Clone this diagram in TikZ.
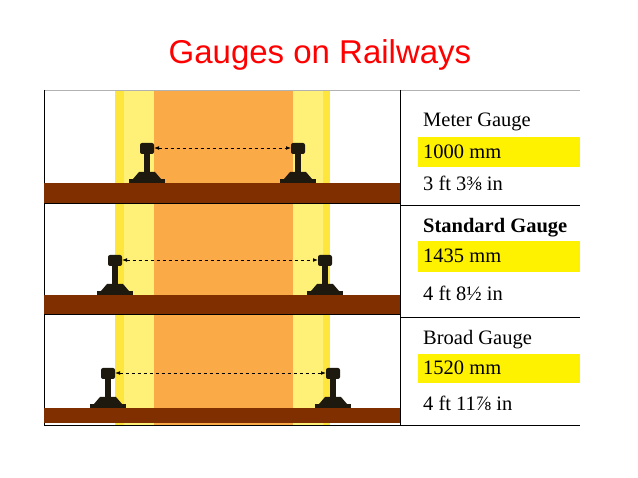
\documentclass[tikz,border=0pt]{standalone}
\usepackage{fontspec}
\setmainfont{Liberation Serif}
\newfontfamily\titlefont{Liberation Sans}
\usetikzlibrary{positioning, arrows.meta}
\definecolor{sleeper}{RGB}{128,48,0}
\definecolor{bandyellow}{RGB}{255,230,60}
\definecolor{paleyellow}{RGB}{255,240,120}
\definecolor{bandorange}{RGB}{250,170,70}
\definecolor{railblack}{RGB}{30,25,15}
\tikzstyle{label} = [anchor=west, inner sep=0pt, font=\fontsize{20.5}{20.5}\selectfont]
\tikzstyle{hilite} = [fill=yellow, draw=none]
\tikzstyle{gauge} = [dashed, thick, {Latex[length=5pt]}-{Latex[length=5pt]}]
\tikzset{rail/.pic={
  \fill[railblack] (-18,0) rectangle (18,-4);
  \fill[railblack] (-14,-4) -- (14,-4) -- (8,-11) -- (-8,-11) -- cycle;
  \fill[railblack] (-3,-11) rectangle (3,-31);
  \fill[railblack, rounded corners=2pt] (-7,-29) rectangle (7,-40);
  \coordinate (-head) at (0,-35);
}}
\begin{document}
\begin{tikzpicture}[x=1pt, y=-1pt]
\useasboundingbox (0,0) rectangle (638,478);
% bands
\fill[bandyellow] (115,90) rectangle (330,425);
\fill[paleyellow] (124,90) rectangle (323,425);
\fill[bandorange] (154,90) rectangle (293,425);
% title
\node (title) at (320,55) {\titlefont\fontsize{33}{33}\selectfont\color{red}Gauges on Railways};
% frame
\draw[gray!60] (44,90) -- (580,90);
\draw[black] (44,90) -- (44,425) -- (580,425);
\draw[black] (400,90) -- (400,425);
\draw[black, thick] (400,205) -- (580,205);
\draw[black, thick] (400,317) -- (580,317);
% sleepers
\fill[sleeper] (44,183) rectangle (400,203);
\fill[sleeper] (44,295) rectangle (400,314);
\fill[sleeper] (44,408) rectangle (400,423);
\draw (44,203) -- (400,203) (44,314) -- (400,314);
% rails
\pic (m1) at (147,183) {rail};
\pic (m2) at (298,183) {rail};
\pic (s1) at (115,295) {rail};
\pic (s2) at (325,295) {rail};
\pic (b1) at (108,408) {rail};
\pic (b2) at (333,408) {rail};
\draw [gauge] ([xshift=7]m1-head) -- ([xshift=-7]m2-head);
\draw [gauge] ([xshift=7]s1-head) -- ([xshift=-7]s2-head);
\draw [gauge] ([xshift=7]b1-head) -- ([xshift=-7]b2-head);
% labels
\fill[hilite] (418,137) rectangle (580,167);
\fill[hilite] (418,241) rectangle (580,272);
\fill[hilite] (418,354) rectangle (580,383);
\node (meter) [label] at (423,122) {Meter Gauge};
\node (meterMm) [label] at (423,152) {1000 mm};
\node (meterFt) [label] at (423,183) {3 ft 3⅜ in};
\node (std) [label] at (423,228) {\bfseries Standard Gauge};
\node (stdMm) [label] at (423,256) {1435 mm};
\node (stdFt) [label] at (423,293) {4 ft 8½ in};
\node (broad) [label] at (423,340) {Broad Gauge};
\node (broadMm) [label] at (423,368) {1520 mm};
\node (broadFt) [label] at (423,403) {4 ft 11⅞ in};
\end{tikzpicture}
\end{document}
